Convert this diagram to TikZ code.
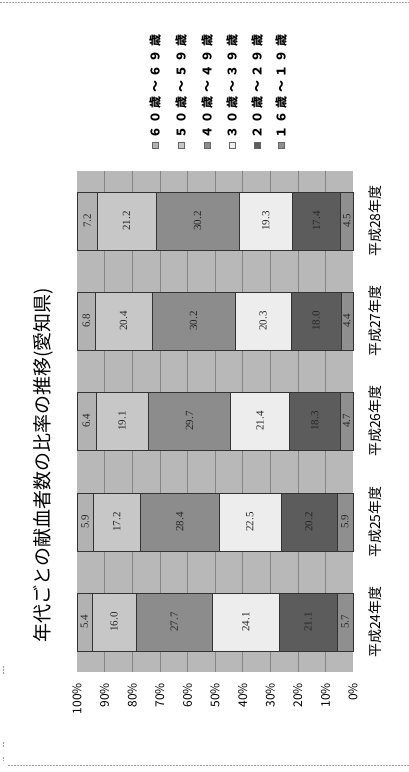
\documentclass[tikz,border=0pt]{standalone}
\usepackage{fontspec}
\setmainfont{Liberation Serif}
\newfontfamily\jp{Noto Sans CJK JP}
\newfontfamily\jpwide[LetterSpace=28]{Noto Sans CJK JP}
\definecolor{plotbg}{gray}{0.72}
\definecolor{gridgray}{gray}{0.52}
\definecolor{csixty}{gray}{0.70}
\definecolor{cfifty}{gray}{0.78}
\definecolor{cforty}{gray}{0.55}
\definecolor{cthirty}{gray}{0.93}
\definecolor{ctwenty}{gray}{0.36}
\definecolor{cteen}{gray}{0.56}
\definecolor{framegray}{gray}{0.62}
\tikzset{
  seg/.style={draw=black!80, line width=0.4pt},
  gridline/.style={draw=gridgray, line width=0.3pt},
  vallabel/.style={rotate=90, inner sep=0pt, text=black!85, font=\fontsize{11}{11}\selectfont},
  ticklabel/.style={rotate=90, anchor=east, inner sep=0pt, font=\jp\fontsize{12}{12}\selectfont},
  catlabel/.style={rotate=90, inner sep=0pt, font=\jp\fontsize{14}{14}\selectfont},
  legendlabel/.style={rotate=90, anchor=west, inner sep=0pt, font=\jpwide\bfseries\fontsize{12}{12}\selectfont},
  legendkey/.style={draw=black!60, line width=0.3pt},
  pageframe/.style={draw=framegray, line width=0.5pt, dash pattern=on 2pt off 1pt}
}
\begin{document}
\begin{tikzpicture}[x=1pt,y=-1pt]
  \useasboundingbox (0,0) rectangle (409,772);
  % page frame bits
  \draw[pageframe] (0,2) -- (409,2);
  \draw[pageframe] (8,765) -- (409,765);
  \draw[pageframe] (3,666) -- (3,675);
  \draw[pageframe] (3,742) -- (3,747);
  \draw[pageframe] (3,757) -- (3,761);
  % title
  \draw (43,465) node[rotate=90, font=\jp\fontsize{19}{19}\selectfont] (title){年代ごとの献血者数の比率の推移(愛知県)};
  % legend
  \draw[legendkey, fill=csixty] (152,142) rectangle (158,148);
  \draw[legendkey, fill=cfifty] (178,142) rectangle (184,148);
  \draw[legendkey, fill=cforty] (204,142) rectangle (210,148);
  \draw[legendkey, fill=cthirty] (229,142) rectangle (235,148);
  \draw[legendkey, fill=ctwenty] (254,142) rectangle (260,148);
  \draw[legendkey, fill=cteen] (278,142) rectangle (284,148);
  \draw
    (155,139) node[legendlabel] (l60){６０歳～６９歳}
    (181,139) node[legendlabel] (l50){５０歳～５９歳}
    (207,139) node[legendlabel] (l40){４０歳～４９歳}
    (232,139) node[legendlabel] (l30){３０歳～３９歳}
    (257,139) node[legendlabel] (l20){２０歳～２９歳}
    (281,139) node[legendlabel] (l16){１６歳～１９歳};
  % plot area
  \fill[plotbg] (77,171) rectangle (353,672);
  \begin{scope}[xshift=353pt, x=-2.76pt]
    \draw[gridline] (10,171) -- (10,672);
    \draw[gridline] (20,171) -- (20,672);
    \draw[gridline] (30,171) -- (30,672);
    \draw[gridline] (40,171) -- (40,672);
    \draw[gridline] (50,171) -- (50,672);
    \draw[gridline] (60,171) -- (60,672);
    \draw[gridline] (70,171) -- (70,672);
    \draw[gridline] (80,171) -- (80,672);
    \draw[gridline] (90,171) -- (90,672);
    % 平成24年度
    \draw[seg, fill=cteen] (0,593) rectangle (5.7,651);
    \draw[seg, fill=ctwenty] (5.7,593) rectangle (26.8,651);
    \draw[seg, fill=cthirty] (26.8,593) rectangle (50.9,651);
    \draw[seg, fill=cforty] (50.9,593) rectangle (78.6,651);
    \draw[seg, fill=cfifty] (78.6,593) rectangle (94.6,651);
    \draw[seg, fill=csixty] (94.6,593) rectangle (100,651);
    % 平成25年度
    \draw[seg, fill=cteen] (0,493) rectangle (5.9,551);
    \draw[seg, fill=ctwenty] (5.9,493) rectangle (26.1,551);
    \draw[seg, fill=cthirty] (26.1,493) rectangle (48.6,551);
    \draw[seg, fill=cforty] (48.6,493) rectangle (77.0,551);
    \draw[seg, fill=cfifty] (77.0,493) rectangle (94.2,551);
    \draw[seg, fill=csixty] (94.2,493) rectangle (100,551);
    % 平成26年度
    \draw[seg, fill=cteen] (0,392) rectangle (4.7,450);
    \draw[seg, fill=ctwenty] (4.7,392) rectangle (23.0,450);
    \draw[seg, fill=cthirty] (23.0,392) rectangle (44.4,450);
    \draw[seg, fill=cforty] (44.4,392) rectangle (74.1,450);
    \draw[seg, fill=cfifty] (74.1,392) rectangle (93.2,450);
    \draw[seg, fill=csixty] (93.2,392) rectangle (100,450);
    % 平成27年度
    \draw[seg, fill=cteen] (0,292) rectangle (4.4,350);
    \draw[seg, fill=ctwenty] (4.4,292) rectangle (22.4,350);
    \draw[seg, fill=cthirty] (22.4,292) rectangle (42.7,350);
    \draw[seg, fill=cforty] (42.7,292) rectangle (72.9,350);
    \draw[seg, fill=cfifty] (72.9,292) rectangle (93.3,350);
    \draw[seg, fill=csixty] (93.3,292) rectangle (100,350);
    % 平成28年度
    \draw[seg, fill=cteen] (0,192) rectangle (4.5,250);
    \draw[seg, fill=ctwenty] (4.5,192) rectangle (21.9,250);
    \draw[seg, fill=cthirty] (21.9,192) rectangle (41.2,250);
    \draw[seg, fill=cforty] (41.2,192) rectangle (71.4,250);
    \draw[seg, fill=cfifty] (71.4,192) rectangle (92.6,250);
    \draw[seg, fill=csixty] (92.6,192) rectangle (100,250);
    % values
    \draw
      (2.85,622) node[vallabel] (v24a){5.7}
      (16.25,622) node[vallabel] (v24b){21.1}
      (38.85,622) node[vallabel] (v24c){24.1}
      (64.75,622) node[vallabel] (v24d){27.7}
      (86.6,622) node[vallabel] (v24e){16.0}
      (97.3,622) node[vallabel] (v24f){5.4}
      (2.95,522) node[vallabel] (v25a){5.9}
      (16.0,522) node[vallabel] (v25b){20.2}
      (37.35,522) node[vallabel] (v25c){22.5}
      (62.8,522) node[vallabel] (v25d){28.4}
      (85.6,522) node[vallabel] (v25e){17.2}
      (97.1,522) node[vallabel] (v25f){5.9}
      (2.35,421) node[vallabel] (v26a){4.7}
      (13.85,421) node[vallabel] (v26b){18.3}
      (33.7,421) node[vallabel] (v26c){21.4}
      (59.25,421) node[vallabel] (v26d){29.7}
      (83.65,421) node[vallabel] (v26e){19.1}
      (96.6,421) node[vallabel] (v26f){6.4}
      (2.2,321) node[vallabel] (v27a){4.4}
      (13.4,321) node[vallabel] (v27b){18.0}
      (32.55,321) node[vallabel] (v27c){20.3}
      (57.8,321) node[vallabel] (v27d){30.2}
      (83.1,321) node[vallabel] (v27e){20.4}
      (96.65,321) node[vallabel] (v27f){6.8}
      (2.25,221) node[vallabel] (v28a){4.5}
      (13.2,221) node[vallabel] (v28b){17.4}
      (31.55,221) node[vallabel] (v28c){19.3}
      (56.3,221) node[vallabel] (v28d){30.2}
      (82.0,221) node[vallabel] (v28e){21.2}
      (96.3,221) node[vallabel] (v28f){7.2};
    % axis
    \draw
      (0,683) node[ticklabel] (t0){0\%}
      (10,683) node[ticklabel] (t10){10\%}
      (20,683) node[ticklabel] (t20){20\%}
      (30,683) node[ticklabel] (t30){30\%}
      (40,683) node[ticklabel] (t40){40\%}
      (50,683) node[ticklabel] (t50){50\%}
      (60,683) node[ticklabel] (t60){60\%}
      (70,683) node[ticklabel] (t70){70\%}
      (80,683) node[ticklabel] (t80){80\%}
      (90,683) node[ticklabel] (t90){90\%}
      (100,683) node[ticklabel] (t100){100\%};
  \end{scope}
  % categories
  \draw
    (375,622) node[catlabel] (h24){平成24年度}
    (375,522) node[catlabel] (h25){平成25年度}
    (375,421) node[catlabel] (h26){平成26年度}
    (375,321) node[catlabel] (h27){平成27年度}
    (375,221) node[catlabel] (h28){平成28年度};
\end{tikzpicture}
\end{document}
